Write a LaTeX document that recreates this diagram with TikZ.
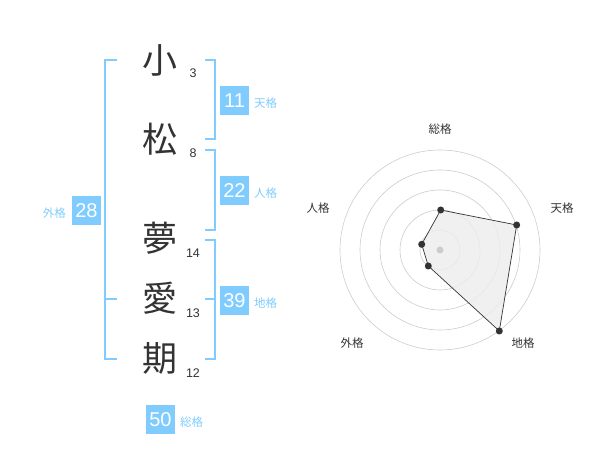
\documentclass[tikz,border=0pt]{standalone}
\usepackage{fontspec}
\newfontfamily\cjk{Noto Sans CJK JP}
\setmainfont{Liberation Sans}
\definecolor{sky}{RGB}{128,204,255}
\definecolor{ink}{RGB}{51,51,51}
\definecolor{ring}{RGB}{204,204,204}
\begin{document}
\begin{tikzpicture}[x=1pt,y=-1pt,
  kanji/.style={font=\cjk\fontsize{35}{35}\selectfont,text=ink,inner sep=0pt},
  strokes/.style={font=\fontsize{12.5}{12.5}\selectfont,text=ink,inner sep=0pt},
  numbox/.style={fill=sky,text=white,minimum width=29pt,minimum height=29pt,inner sep=0pt,font=\fontsize{20}{20}\selectfont},
  kaku/.style={font=\cjk\fontsize{11.5}{11.5}\selectfont,text=sky,inner sep=0pt},
  brk/.style={draw=sky,line width=1.5pt},
  axlab/.style={font=\cjk\fontsize{11.5}{11.5}\selectfont,text=ink,inner sep=0pt},
  ringc/.style={draw=ring,line width=0.6pt},
  dot/.style={circle,fill=ink,inner sep=0pt,minimum size=7pt}]
\useasboundingbox (0,0) rectangle (600,470);
% characters
\node[kanji] (c1) at (160,60) {小};
\node[kanji] (c2) at (160,139) {松};
\node[kanji] (c3) at (160,238) {夢};
\node[kanji] (c4) at (160,298) {愛};
\node[kanji] (c5) at (160,358) {期};
\node[strokes] (s1) at (193,73) {3};
\node[strokes] (s2) at (193,153) {8};
\node[strokes] (s3) at (193,253) {14};
\node[strokes] (s4) at (193,313) {13};
\node[strokes] (s5) at (193,373) {12};
% brackets
\coordinate (la) at (117,60); \coordinate (lb) at (105,60);
\coordinate (lc) at (105,359); \coordinate (ld) at (117,359);
\coordinate (lm1) at (105,299); \coordinate (lm2) at (117,299);
\draw[brk] (la) -- (lb) -- (lc) -- (ld);
\draw[brk] (lm1) -- (lm2);
\coordinate (t1) at (205,60); \coordinate (t2) at (215,60);
\coordinate (t3) at (215,139); \coordinate (t4) at (205,139);
\draw[brk] (t1) -- (t2) -- (t3) -- (t4);
\coordinate (j1) at (205,150); \coordinate (j2) at (215,150);
\coordinate (j3) at (215,230); \coordinate (j4) at (205,230);
\draw[brk] (j1) -- (j2) -- (j3) -- (j4);
\coordinate (g1) at (205,240); \coordinate (g2) at (215,240);
\coordinate (g3) at (215,359); \coordinate (g4) at (205,359);
\coordinate (gm1) at (205,299); \coordinate (gm2) at (215,299);
\draw[brk] (g1) -- (g2) -- (g3) -- (g4);
\draw[brk] (gm1) -- (gm2);
% boxes
\node[numbox] (b11) at (234.5,100.5) {11};
\node[kaku,anchor=west] (k11) at (254,103) {天格};
\node[numbox] (b22) at (234.5,190.5) {22};
\node[kaku,anchor=west] (k22) at (254,193) {人格};
\node[numbox] (b28) at (86.5,210.5) {28};
\node[kaku,anchor=east] (k28) at (66,213) {外格};
\node[numbox] (b39) at (234.5,300.5) {39};
\node[kaku,anchor=west] (k39) at (254,303) {地格};
\node[numbox] (b50) at (160.5,419.5) {50};
\node[kaku,anchor=west] (k50) at (180,422) {総格};
% radar
\coordinate (o) at (440,250);
\foreach \r in {20,40,60,80,100} \draw[ringc] (o) circle[radius=\r];
\coordinate (p1) at (440.7,210);
\coordinate (p2) at (516.7,225);
\coordinate (p3) at (499.3,331);
\coordinate (p4) at (428.3,266);
\coordinate (p5) at (421.7,244.3);
\fill[black!7,opacity=0.85] (p1) -- (p2) -- (p3) -- (p4) -- (p5) -- cycle;
\fill[ring] (o) circle[radius=3.5];
\draw[ink,line width=0.7pt] (p1) -- (p2) -- (p3) -- (p4) -- (p5) -- cycle;
\foreach \p in {p1,p2,p3,p4,p5} \node[dot] at (\p) {};
\node[axlab] (a1) at (440,129) {総格};
\node[axlab] (a2) at (562,208) {天格};
\node[axlab] (a3) at (523,343) {地格};
\node[axlab] (a4) at (352,343) {外格};
\node[axlab] (a5) at (318,208) {人格};
\end{tikzpicture}
\end{document}
